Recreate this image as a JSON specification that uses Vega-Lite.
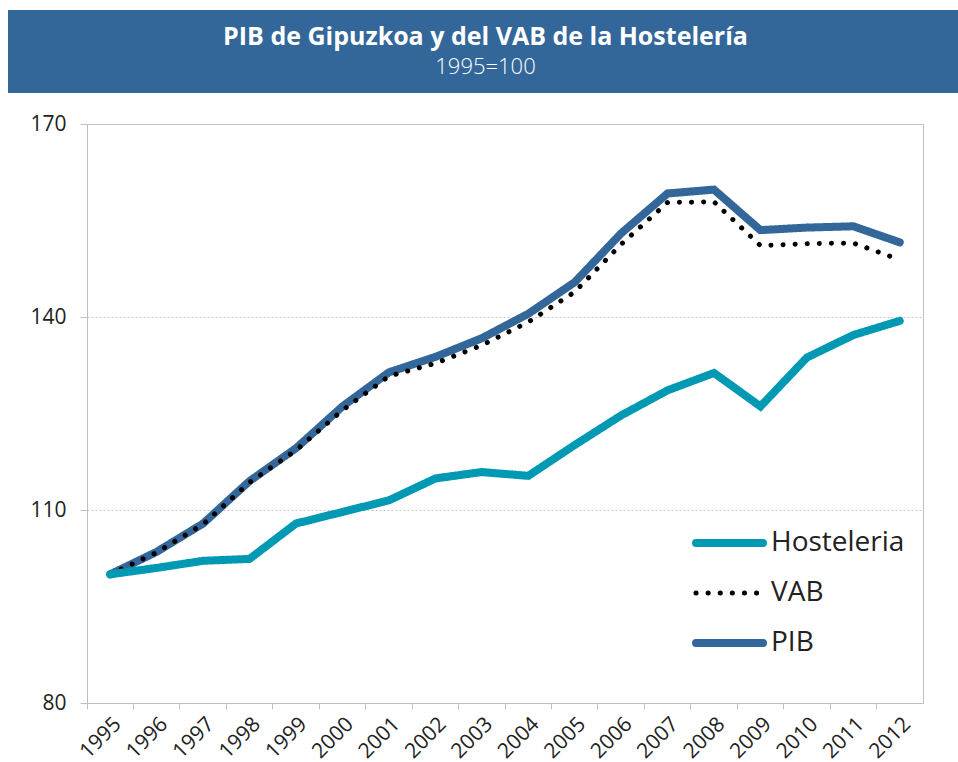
{
  "$schema": "https://vega.github.io/schema/vega-lite/v6.json",
  "padding": {"left": 8, "top": 10, "right": 0, "bottom": 0},
  "background": "white",
  "config": {
    "font": "Open Sans",
    "view": {"stroke": null}
  },
  "columns": 1,
  "align": "none",
  "spacing": 19,
  "concat": [
    {
      "width": 871,
      "height": 83,
      "view": {"fill": "#336699", "stroke": null},
      "title": {
        "text": "PIB de Gipuzkoa y del VAB de la Hostelería",
        "subtitle": "1995=100",
        "anchor": "middle",
        "frame": "group",
        "orient": "top",
        "offset": -68,
        "dx": -37,
        "color": "#ffffff",
        "subtitleColor": "#ffffff",
        "fontSize": 25,
        "fontWeight": "bold",
        "subtitleFontSize": 22,
        "subtitleFontWeight": 300,
        "subtitlePadding": 7,
        "font": "Open Sans",
        "subtitleFont": "Open Sans"
      },
      "data": {"values": []},
      "mark": "point",
      "encoding": {
        "y": {
          "field": "v",
          "type": "quantitative",
          "scale": {"domain": [0, 1]},
          "axis": {
            "title": null,
            "labels": false,
            "ticks": false,
            "grid": false,
            "domain": true,
            "translate": 0,
            "domainWidth": 158,
            "domainColor": "#336699",
            "domainCap": "butt"
          }
        }
      }
    },
    {
      "width": 836,
      "height": 579,
      "view": {"stroke": "#bfbfbf", "strokeWidth": 1},
      "data": {
        "values": [
          {"year": "1995", "series": "PIB", "value": 100.0},
          {"year": "1996", "series": "PIB", "value": 103.5},
          {"year": "1997", "series": "PIB", "value": 107.9},
          {"year": "1998", "series": "PIB", "value": 114.5},
          {"year": "1999", "series": "PIB", "value": 119.6},
          {"year": "2000", "series": "PIB", "value": 126.1},
          {"year": "2001", "series": "PIB", "value": 131.4},
          {"year": "2002", "series": "PIB", "value": 133.8},
          {"year": "2003", "series": "PIB", "value": 136.7},
          {"year": "2004", "series": "PIB", "value": 140.5},
          {"year": "2005", "series": "PIB", "value": 145.4},
          {"year": "2006", "series": "PIB", "value": 153.0},
          {"year": "2007", "series": "PIB", "value": 159.2},
          {"year": "2008", "series": "PIB", "value": 159.8},
          {"year": "2009", "series": "PIB", "value": 153.5},
          {"year": "2010", "series": "PIB", "value": 153.9},
          {"year": "2011", "series": "PIB", "value": 154.1},
          {"year": "2012", "series": "PIB", "value": 151.6},
          {"year": "1995", "series": "VAB", "value": 100.0},
          {"year": "1996", "series": "VAB", "value": 103.4},
          {"year": "1997", "series": "VAB", "value": 107.8},
          {"year": "1998", "series": "VAB", "value": 114.3},
          {"year": "1999", "series": "VAB", "value": 119.3},
          {"year": "2000", "series": "VAB", "value": 125.5},
          {"year": "2001", "series": "VAB", "value": 130.8},
          {"year": "2002", "series": "VAB", "value": 132.8},
          {"year": "2003", "series": "VAB", "value": 135.6},
          {"year": "2004", "series": "VAB", "value": 139.2},
          {"year": "2005", "series": "VAB", "value": 143.9},
          {"year": "2006", "series": "VAB", "value": 151.3},
          {"year": "2007", "series": "VAB", "value": 157.8},
          {"year": "2008", "series": "VAB", "value": 157.9},
          {"year": "2009", "series": "VAB", "value": 151.1},
          {"year": "2010", "series": "VAB", "value": 151.4},
          {"year": "2011", "series": "VAB", "value": 151.5},
          {"year": "2012", "series": "VAB", "value": 148.9},
          {"year": "1995", "series": "Hosteleria", "value": 100.0},
          {"year": "1996", "series": "Hosteleria", "value": 101.0},
          {"year": "1997", "series": "Hosteleria", "value": 102.1},
          {"year": "1998", "series": "Hosteleria", "value": 102.4},
          {"year": "1999", "series": "Hosteleria", "value": 107.9},
          {"year": "2000", "series": "Hosteleria", "value": 109.7},
          {"year": "2001", "series": "Hosteleria", "value": 111.5},
          {"year": "2002", "series": "Hosteleria", "value": 114.9},
          {"year": "2003", "series": "Hosteleria", "value": 115.9},
          {"year": "2004", "series": "Hosteleria", "value": 115.3},
          {"year": "2005", "series": "Hosteleria", "value": 120.1},
          {"year": "2006", "series": "Hosteleria", "value": 124.7},
          {"year": "2007", "series": "Hosteleria", "value": 128.6},
          {"year": "2008", "series": "Hosteleria", "value": 131.3},
          {"year": "2009", "series": "Hosteleria", "value": 126.1},
          {"year": "2010", "series": "Hosteleria", "value": 133.7},
          {"year": "2011", "series": "Hosteleria", "value": 137.2},
          {"year": "2012", "series": "Hosteleria", "value": 139.4}
        ]
      },
      "encoding": {
        "x": {
          "field": "year",
          "type": "ordinal",
          "bandPosition": 0.5,
          "scale": {"type": "band", "paddingInner": 0, "paddingOuter": 0},
          "axis": {
            "title": null,
            "bandPosition": 0,
            "labelAngle": -45,
            "labelFontSize": 21,
            "labelColor": "#222222",
            "labelPadding": 4,
            "tickSize": 6,
            "tickColor": "#bfbfbf",
            "domainColor": "#bfbfbf",
            "grid": false
          }
        },
        "y": {
          "field": "value",
          "type": "quantitative",
          "scale": {"domain": [80, 170], "nice": false, "zero": false},
          "axis": {
            "title": null,
            "values": [80, 110, 140, 170],
            "grid": true,
            "gridDash": [2, 2],
            "gridColor": "#c8c8c8",
            "domainColor": "#bfbfbf",
            "tickColor": "#bfbfbf",
            "tickSize": 7,
            "labelFontSize": 21,
            "labelColor": "#222222",
            "labelPadding": 14,
            "minExtent": 78
          }
        },
        "color": {
          "field": "series",
          "type": "nominal",
          "scale": {
            "domain": ["Hosteleria", "VAB", "PIB"],
            "range": ["#0099b3", "#000000", "#336699"]
          },
          "legend": {
            "title": null,
            "orient": "none",
            "legendX": 605,
            "legendY": 508,
            "symbolType": "stroke",
            "symbolSize": 4489,
            "symbolStrokeWidth": 8,
            "clipHeight": 50,
            "rowPadding": 0,
            "labelFontSize": 28,
            "labelColor": "#222222",
            "labelOffset": 4,
            "padding": 0,
            "encode": {
              "symbols": {
                "update": {
                  "strokeCap": {"value": "round"},
                  "strokeWidth": {"signal": "(datum.value === 'VAB' ? 5 : 8)"}
                }
              }
            }
          }
        },
        "strokeDash": {
          "field": "series",
          "type": "nominal",
          "scale": {
            "domain": ["Hosteleria", "VAB", "PIB"],
            "range": [[1, 0], [0.1, 12], [1, 0]]
          },
          "legend": {
            "title": null,
            "orient": "none",
            "legendX": 605,
            "legendY": 508,
            "symbolType": "stroke",
            "symbolSize": 4489,
            "symbolStrokeWidth": 8,
            "clipHeight": 50,
            "rowPadding": 0,
            "labelFontSize": 28,
            "labelColor": "#222222",
            "labelOffset": 4,
            "padding": 0,
            "encode": {
              "symbols": {
                "update": {
                  "strokeCap": {"value": "round"},
                  "strokeWidth": {"signal": "(datum.value === 'VAB' ? 5 : 8)"}
                }
              }
            }
          }
        }
      },
      "layer": [
        {
          "transform": [{"filter": "datum.series === 'PIB'"}],
          "mark": {"type": "line", "strokeWidth": 8, "strokeCap": "round"}
        },
        {
          "transform": [{"filter": "datum.series === 'VAB'"}],
          "mark": {"type": "line", "strokeWidth": 5, "strokeCap": "round"}
        },
        {
          "transform": [{"filter": "datum.series === 'Hosteleria'"}],
          "mark": {"type": "line", "strokeWidth": 8, "strokeCap": "round"}
        }
      ]
    }
  ]
}
